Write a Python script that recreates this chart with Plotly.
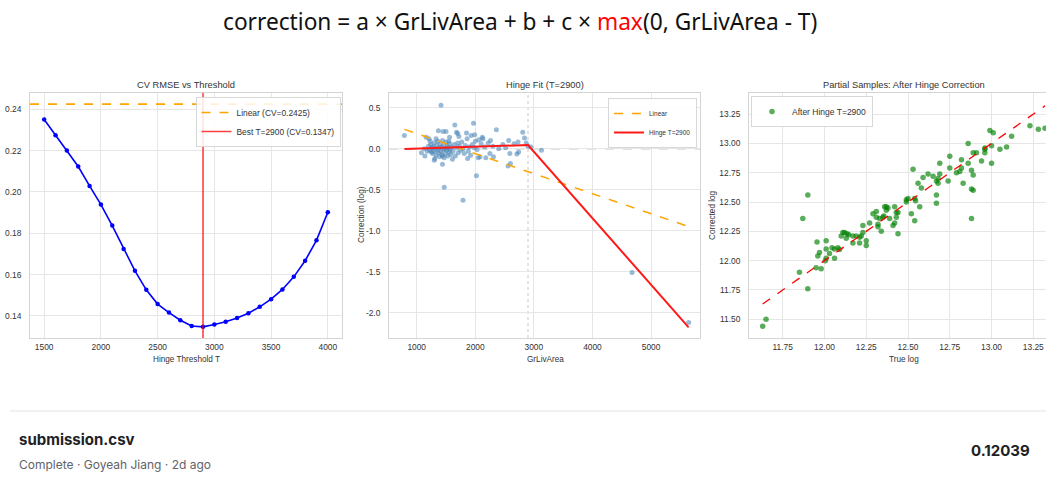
import plotly.graph_objects as go

W, H = 1046, 482

# ---------------- Left panel: CV RMSE vs threshold ----------------
thresholds = [1500, 1600, 1700, 1800, 1900, 2000, 2100, 2200, 2300, 2400, 2500, 2600, 2700,
              2800, 2900, 3000, 3100, 3200, 3300, 3400, 3500, 3600, 3700, 3800, 3900, 4000]
cv_rmse = [0.2351, 0.2275, 0.2201, 0.2123, 0.2029, 0.1939, 0.1837, 0.1724, 0.1618, 0.1526,
           0.1457, 0.1416, 0.1379, 0.1351, 0.1347, 0.1358, 0.1372, 0.1390, 0.1413, 0.1444,
           0.1481, 0.1528, 0.1589, 0.1667, 0.1766, 0.1902]
linear_cv = 0.2425
best_T = 2900
best_cv = 0.1347
left_xticks = [1500, 2000, 2500, 3000, 3500, 4000]
left_yticks = [0.14, 0.16, 0.18, 0.20, 0.22, 0.24]
left_yticklabels = ["0.14", "0.16", "0.18", "0.20", "0.22", "0.24"]

# ---------------- Middle panel: hinge fit ----------------
area_x = [790, 1415, 1370, 1450, 1500, 1650, 1970, 1680, 1700, 1560, 1850, 1930, 1990, 2360,
          2810, 2840, 2570, 3130, 2740, 2710, 2590, 2600, 2310, 2560, 2020, 1470, 1790, 4676,
          5642, 1440, 1080, 1140,
          1200, 1220, 1240, 1250, 1260, 1270, 1280, 1290, 1300, 1310, 1320, 1330, 1340, 1350,
          1360, 1370, 1380, 1390, 1400, 1410, 1420, 1430, 1440, 1450, 1460, 1470, 1480, 1490,
          1500, 1510, 1520, 1530, 1540, 1550, 1560, 1570, 1580, 1600, 1620, 1640, 1660, 1680,
          1700, 1710, 1730, 1750, 1770, 1790, 1810, 1830, 1860, 1880, 1900, 1920, 1950, 1980,
          2000, 2030, 2060, 2080, 2100, 2130, 2160, 2180, 2220, 2260, 2300, 2400, 2470, 2520,
          1160, 1130, 1180, 1210, 1230, 1330, 1550, 1720, 2120, 2660, 2730, 2870, 2900, 2950,
          2250, 2050, 1870, 1610, 1300, 1440]
corr_y = [0.16, 0.53, 0.22, 0.21, 0.21, 0.29, 0.31, 0.20, 0.185, 0.14, 0.19, 0.16, 0.17, 0.23,
          0.20, 0.13, 0.10, -0.02, -0.04, -0.065, -0.06, -0.18, -0.10, -0.21, -0.33, -0.47,
          -0.63, -1.51, -2.12, -0.19, -0.05, -0.09,
          0.03, -0.02, 0.05, -0.04, 0.01, -0.06, 0.02, -0.03, 0.07, -0.12, 0.00, -0.08, 0.04,
          -0.02, 0.09, -0.05, 0.01, -0.10, 0.06, -0.03, 0.02, -0.07, 0.10, -0.01, 0.04, -0.11,
          0.00, -0.06, 0.08, -0.02, 0.03, -0.09, 0.01, -0.04, 0.06, -0.01, -0.07, 0.02, -0.03,
          0.05, -0.09, 0.01, 0.07, -0.05, 0.03, -0.02, 0.08, 0.00, -0.06, 0.04, 0.12, -0.03,
          0.02, -0.08, 0.05, 0.01, 0.09, -0.01, 0.11, -0.10, 0.06, 0.12, 0.02, -0.11, 0.07,
          0.10, 0.03, 0.00, 0.05, 0.01,
          0.14, 0.00, -0.03, 0.12, 0.09, 0.12, 0.09, 0.15, 0.14, 0.06, 0.08, 0.07, 0.03, 0.02,
          -0.06, -0.11, -0.12, -0.13, -0.14, -0.09]
lin_x = [790, 5642]
lin_y = [0.235, -0.95]
hinge_x = [790, 2900, 5642]
hinge_y = [-0.005, 0.045, -2.18]
mid_xticks = [1000, 2000, 3000, 4000, 5000]
mid_yticks = [-2.0, -1.5, -1.0, -0.5, 0.0, 0.5]
mid_yticklabels = ["-2.0", "-1.5", "-1.0", "-0.5", "0.0", "0.5"]

# ---------------- Right panel: after correction ----------------
true_log = [11.63, 11.65, 11.87, 11.90, 11.90, 11.85, 11.95, 11.98, 11.955, 11.97, 11.96,
            12.01, 12.01, 12.01, 12.005, 12.03, 12.045, 12.06, 12.06, 12.08, 12.09, 12.10,
            12.11, 12.12, 12.13, 12.145, 12.135, 12.17, 12.21, 12.17, 12.19, 12.21, 12.22,
            12.23, 12.25, 12.25, 12.23, 12.27, 12.29, 12.31, 12.31, 12.32, 12.32, 12.34,
            12.33, 12.35, 12.355, 12.36, 12.37, 12.37, 12.38, 12.39, 12.41, 12.42, 12.43,
            12.42, 12.43, 12.44, 12.44, 12.49, 12.50, 12.49, 12.52, 12.54, 12.53, 12.54,
            12.545, 12.56, 12.57, 12.58, 12.59, 12.62, 12.65, 12.67, 12.68, 12.68, 12.67,
            12.67, 12.69, 12.69, 12.74, 12.75, 12.75, 12.79, 12.81, 12.82, 12.82, 12.83,
            12.86, 12.86, 12.88, 12.89, 12.88, 12.89, 12.88, 12.89, 12.91, 12.94, 12.96,
            12.96, 12.96, 12.99, 13.01, 13.00, 13.00, 13.05, 13.09, 13.12, 13.23, 13.28,
            13.32]
corrected_log = [11.44, 11.50, 12.36, 12.56, 11.76, 11.90, 11.94, 11.93, 12.16, 12.07, 12.04,
                 12.17, 12.10, 12.02, 12.00, 12.06, 12.11, 12.10, 12.02, 12.11, 12.095, 12.21,
                 12.24, 12.24, 12.19, 12.22, 12.23, 12.15, 12.15, 12.21, 12.21, 12.20, 12.21,
                 12.24, 12.17, 12.13, 12.30, 12.32, 12.40, 12.42, 12.37, 12.31, 12.29, 12.25,
                 12.36, 12.37, 12.38, 12.46, 12.46, 12.43, 12.45, 12.36, 12.30, 12.32, 12.41,
                 12.46, 12.37, 12.23, 12.41, 12.52, 12.53, 12.50, 12.40, 12.34, 12.78, 12.53,
                 12.51, 12.66, 12.46, 12.62, 12.71, 12.74, 12.72, 12.68, 12.66, 12.70, 12.56,
                 12.49, 12.83, 12.74, 12.68, 12.89, 12.79, 12.75, 12.76, 12.79, 12.86, 12.66,
                 13.00, 12.83, 12.77, 12.73, 12.61, 12.60, 12.36, 12.92, 12.92, 12.85, 12.92,
                 12.95, 12.96, 13.11, 13.09, 12.98, 12.83, 12.95, 12.97, 13.06, 13.15, 13.12,
                 13.13]
right_xticks = [11.75, 12.00, 12.25, 12.50, 12.75, 13.00, 13.25]
right_xticklabels = ["11.75", "12.00", "12.25", "12.50", "12.75", "13.00", "13.25"]
right_yticks = [11.50, 11.75, 12.00, 12.25, 12.50, 12.75, 13.00, 13.25]
right_yticklabels = ["11.50", "11.75", "12.00", "12.25", "12.50", "12.75", "13.00", "13.25"]

# ---------------- Page texts ----------------
page_title = ("correction = a × GrLivArea + b + c × "
              "<span style='color:#ff0000'>max</span>(0, GrLivArea - T)")
file_name = "submission.csv"
file_meta = "Complete · Goyeah Jiang · 2d ago"
score_text = "0.12039"

# ---------------- Layout helpers (window pixel -> paper fraction) ----------------
def px(x):
    return x / W

def py(y):
    return 1 - y / H

TOP, BOT = 93, 338
GRID = "#e6e6e6"
FRAME = "#d4d4d4"
TXT = "#333333"
FONT = "Liberation Sans, Arial, sans-serif"
TICK = 8.4

fig = go.Figure()

# Left
fig.add_trace(go.Scatter(
    x=thresholds, y=cv_rmse, mode="lines+markers",
    line=dict(color="#0000ff", width=1.6),
    marker=dict(color="#0000ff", size=4.5),
    showlegend=False, xaxis="x", yaxis="y"))
fig.add_trace(go.Scatter(
    x=[None], y=[None], mode="lines", name=f"Linear (CV={linear_cv:.4f})",
    line=dict(color="orange", width=1.6, dash="dash"),
    legend="legend", xaxis="x", yaxis="y"))
fig.add_trace(go.Scatter(
    x=[None], y=[None], mode="lines", name=f"Best T={best_T} (CV={best_cv:.4f})",
    line=dict(color="rgba(255,0,0,0.75)", width=1.6),
    legend="legend", xaxis="x", yaxis="y"))

# Middle
fig.add_trace(go.Scatter(
    x=area_x, y=corr_y, mode="markers",
    marker=dict(color="rgba(70,130,180,0.55)", size=5),
    showlegend=False, xaxis="x2", yaxis="y2"))
fig.add_trace(go.Scatter(
    x=lin_x, y=lin_y, mode="lines", name="Linear",
    line=dict(color="orange", width=1.5, dash="dash"),
    legend="legend2", xaxis="x2", yaxis="y2"))
fig.add_trace(go.Scatter(
    x=hinge_x, y=hinge_y, mode="lines", name=f"Hinge T={best_T}",
    line=dict(color="#ff1a1a", width=2),
    legend="legend2", xaxis="x2", yaxis="y2"))

# Right
diag = [min(true_log), max(true_log)]
fig.add_trace(go.Scatter(
    x=true_log, y=corrected_log, mode="markers", name=f"After Hinge T={best_T}",
    marker=dict(color="rgba(0,128,0,0.65)", size=5.5),
    legend="legend3", xaxis="x3", yaxis="y3"))
fig.add_trace(go.Scatter(
    x=diag, y=diag, mode="lines",
    line=dict(color="#ff0000", width=1.3, dash="dash"),
    showlegend=False, xaxis="x3", yaxis="y3"))

def axis_common(standoff):
    return dict(showgrid=True, gridcolor=GRID, gridwidth=1, zeroline=False,
                showline=True, linecolor=FRAME, linewidth=1, mirror=True,
                ticks="", ticklabelstandoff=standoff, ticklabeloverflow="allow",
                tickfont=dict(family=FONT, size=TICK, color=TXT),
                fixedrange=True)

ydom = [py(BOT), py(TOP)]
legend_style = dict(bgcolor="rgba(255,255,255,0.85)", bordercolor="#d8d8d8", borderwidth=1,
                    itemwidth=30, tracegroupgap=0)
layout = dict(
    width=W, height=H, autosize=False,
    margin=dict(l=0, r=0, t=0, b=0),
    paper_bgcolor="white", plot_bgcolor="white",
    font=dict(family=FONT, color=TXT),
    xaxis=dict(domain=[px(30), px(342)], range=[1375, 4125], tickvals=left_xticks,
               anchor="y", **axis_common(1)),
    yaxis=dict(domain=ydom, range=[0.1293, 0.2479], tickvals=left_yticks,
               ticktext=left_yticklabels, anchor="x", **axis_common(6)),
    xaxis2=dict(domain=[px(389), px(700)], range=[527, 5836], tickvals=mid_xticks,
                anchor="y2", **axis_common(1)),
    yaxis2=dict(domain=ydom, range=[-2.309, 0.679], tickvals=mid_yticks,
                ticktext=mid_yticklabels, anchor="x2", **axis_common(6)),
    xaxis3=dict(domain=[px(749), 1.0], range=[11.548, 13.326], tickvals=right_xticks,
                ticktext=right_xticklabels, anchor="y3", **axis_common(1)),
    yaxis3=dict(domain=ydom, range=[11.34, 13.43], tickvals=right_yticks,
                ticktext=right_yticklabels, anchor="x3", **axis_common(6)),
    legend=dict(x=px(340.5), y=py(97), xanchor="right", yanchor="top",
                font=dict(family=FONT, size=8.4, color=TXT), **legend_style),
    legend2=dict(x=px(697), y=py(98), xanchor="right", yanchor="top",
                 font=dict(family=FONT, size=6.5, color=TXT), **legend_style),
    legend3=dict(x=px(751), y=py(96), xanchor="left", yanchor="top",
                 font=dict(family=FONT, size=8.5, color=TXT), **legend_style),
)
fig.update_layout(**layout)

# Reference lines
fig.add_shape(type="line", xref="x domain", yref="y", x0=0, x1=1, y0=linear_cv, y1=linear_cv,
              line=dict(color="orange", width=1.6, dash="dash"), layer="above")
fig.add_shape(type="line", xref="x", yref="y domain", x0=best_T, x1=best_T, y0=0, y1=1,
              line=dict(color="rgba(255,0,0,0.75)", width=1.6), layer="above")
fig.add_shape(type="line", xref="x2 domain", yref="y2", x0=0, x1=1, y0=0, y1=0,
              line=dict(color="rgba(110,110,110,0.8)", width=1.4, dash="dash"), layer="below")
fig.add_shape(type="line", xref="x2", yref="y2 domain", x0=best_T, x1=best_T, y0=0, y1=1,
              line=dict(color="#c8c8c8", width=1, dash="dot"), layer="below")

# Text placed by pixel centre
def ann(text, x, y, size, family=FONT, color=TXT, xanchor="center", **kw):
    fig.add_annotation(text=text, x=px(x), y=py(y), xref="paper", yref="paper",
                       xanchor=xanchor, yanchor="middle", showarrow=False,
                       font=dict(family=family, size=size, color=color), **kw)

ann("CV RMSE vs Threshold", 186, 85, 9.3)
ann(f"Hinge Fit (T={best_T})", 545, 85, 9.3)
ann("Partial Samples: After Hinge Correction", 904, 85, 9.3)
ann("Hinge Threshold T", 186, 359, 8.2)
ann("GrLivArea", 545, 359, 8.2)
ann("True log", 904, 359, 8.2)
ann("Correction (log)", 362, 215, 8.2, textangle=-90)
ann("Corrected log", 713, 215, 8.2, textangle=-90)

# Page header
ann(page_title, 520, 22, 22.7, family="Noto Sans, sans-serif", color="#111111")

# Page footer
fig.add_shape(type="line", xref="paper", yref="paper", x0=px(10), x1=1, y0=py(411), y1=py(411),
              line=dict(color="#e2e2e2", width=1))
ann(f"<b>{file_name}</b>", 17, 439, 15, family="Inter, sans-serif", color="#202124",
    xanchor="left")
ann(file_meta, 17, 464, 12, family="Inter, sans-serif", color="#5f6368", xanchor="left")
ann(f"<b>{score_text}</b>", 1032, 450, 15, family="Inter, sans-serif", color="#202124",
    xanchor="right")

# Remove the default page margin so the figure fills the window exactly.
fig.write_html("out.html",
               config={"displayModeBar": False, "staticPlot": True},
               post_script="document.body.style.margin='0';"
                           "document.body.style.overflow='hidden';")
